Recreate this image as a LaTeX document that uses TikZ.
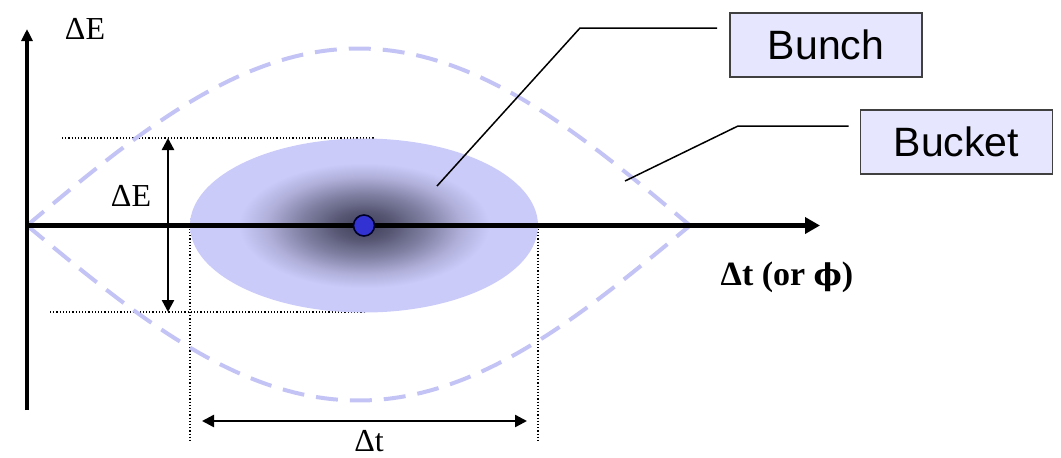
\documentclass[tikz,border=0pt]{standalone}
\usepackage{fontspec}
\setmainfont{Liberation Serif}
\newfontfamily\boxfont{Liberation Sans}
\newfontfamily\phifont{DejaVu Serif}
\usetikzlibrary{arrows.meta}
\definecolor{lav}{RGB}{203,203,250}
\definecolor{dashc}{RGB}{195,195,245}
\definecolor{boxfill}{RGB}{230,230,255}
\definecolor{dotc}{RGB}{50,50,210}
\definecolor{core}{RGB}{65,65,90}
\pgfdeclareradialshading{bunchshade}{\pgfpoint{0bp}{0bp}}{color(0bp)=(core); color(4bp)=(core!85!lav); color(9bp)=(core!55!lav); color(14bp)=(core!20!lav); color(18bp)=(lav); color(50bp)=(lav)}
\tikzset{
  axisline/.style={line width=2.5pt},
  dotline/.style={line width=0.6pt, dash pattern=on 0.6pt off 1pt},
  sepline/.style={dashc, line width=2pt, dash pattern=on 11pt off 6pt},
  dimarrow/.style={line width=1.2pt, {Triangle[length=6pt,width=6pt]}-{Triangle[length=6pt,width=6pt]}},
  labelbox/.style={draw=black!75, fill=boxfill, line width=0.8pt, minimum width=96pt, minimum height=32pt, inner sep=0pt, font=\boxfont\fontsize{20.5}{24}\selectfont},
  leader/.style={line width=0.75pt},
  lbl/.style={inner sep=0pt, font=\fontsize{16}{18}\selectfont}
}
\begin{document}
\begin{tikzpicture}[x=0.5pt,y=-0.5pt]
\useasboundingbox (0,0) rectangle (1061,457);
% reference coordinates
\coordinate (origin) at (27,225.5);
\coordinate (ytop) at (27,29);
\coordinate (ybot) at (27,410);
\coordinate (xend) at (820,225.5);
\coordinate (ctr) at (364,225.5);
% dotted guide lines
\coordinate (dtl) at (62,138);
\coordinate (dtr) at (375,138);
\coordinate (dbl) at (50,312);
\coordinate (dbr) at (365,312);
\coordinate (dvl1) at (190,225.5);
\coordinate (dvl2) at (190,442);
\coordinate (dvr1) at (538,225.5);
\coordinate (dvr2) at (538,442);
\draw[dotline] (dtl) -- (dtr);
\draw[dotline] (dbl) -- (dbr);
\draw[dotline] (dvl1) -- (dvl2);
\draw[dotline] (dvr1) -- (dvr2);
% bunch
\shade[shading=bunchshade] (ctr) ellipse [x radius=87pt, y radius=43.5pt];
% bucket separatrix
\draw[sepline] plot[domain=27:690, samples=90] (\x, {225.5 - 177*sin((\x-27)*0.271493)});
\draw[sepline] plot[domain=27:690, samples=90] (\x, {225.5 + 175*sin((\x-27)*0.271493)});
% axes
\draw[line width=1.6pt, -{Triangle[length=6pt,width=5.5pt]}] (ybot) -- (ytop);
\draw[axisline, -{Triangle[length=7.5pt,width=8pt]}] (origin) -- (xend);
% central particle
\node[circle, draw=black!85!blue, line width=0.8pt, fill=dotc, minimum size=10.5pt, inner sep=0pt] (dot) at (ctr) {};
% dimension arrows
\coordinate (det) at (168,138);
\coordinate (deb) at (168,312);
\draw[dimarrow] (det) -- (deb);
\coordinate (dtl2) at (202,421);
\coordinate (dtr2) at (527,421);
\draw[dimarrow] (dtl2) -- (dtr2);
% labels
\node[lbl] (ylabel) at (85,29) {ΔE};
\node[lbl] (delabel) at (131,196) {ΔE};
\node[lbl] (dtlabel) at (369,441) {Δt};
\node[lbl, font=\bfseries\fontsize{17}{20}\selectfont] (xlabel) at (787,277) {Δt (or {\phifont\fontsize{15}{18}\selectfont ϕ})};
% boxes
\node[labelbox] (bunch) at (826,45) {Bunch};
\node[labelbox] (bucket) at (956.5,142) {Bucket};
\coordinate (bunchpt) at (437,186);
\coordinate (bunchknee) at (580,28);
\draw[leader] (bunchpt) -- (bunchknee) -- ([xshift=-6pt,yshift=8.5pt]bunch.west);
\coordinate (bucketpt) at (625,181);
\coordinate (bucketknee) at (738,126);
\draw[leader] (bucketpt) -- (bucketknee) -- ([xshift=-5.5pt,yshift=8pt]bucket.west);
\end{tikzpicture}
\end{document}
